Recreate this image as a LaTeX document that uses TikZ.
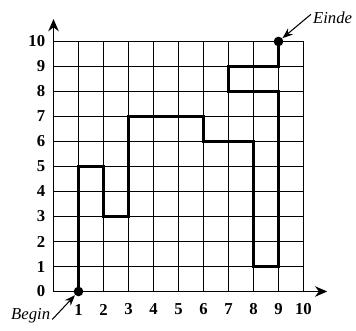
\documentclass[tikz,border=0pt]{standalone}
\usepackage{fontspec}
\setmainfont{Liberation Serif}
\usetikzlibrary{arrows.meta}
\begin{document}
\begin{tikzpicture}[x=0.5cm,y=0.5cm,
  gridline/.style={line width=0.8pt},
  pathline/.style={line width=1.7pt, line join=miter},
  axisline/.style={line width=0.8pt, -{Stealth[length=7pt,width=6pt]}},
  ticklbl/.style={font=\fontsize{9.5}{11}\selectfont\bfseries, inner sep=1pt},
  endlbl/.style={font=\fontsize{9.5}{11}\selectfont\itshape, inner sep=1pt},
  dot/.style={circle, fill=black, inner sep=0pt, minimum size=5.5pt},
  ptr/.style={line width=0.6pt, -{Stealth[length=6pt,width=4.5pt]}}]
\useasboundingbox (-2.14,-1.58) rectangle (12.10,11.66);
\foreach \i in {1,...,10} {
  \draw[gridline] (\i,0) -- (\i,10);
  \draw[gridline] (0,\i) -- (10,\i);
}
\coordinate (o) at (0,0);
\coordinate (xend) at (10.95,0);
\coordinate (yend) at (0,10.9);
\draw[axisline] (o) -- (xend);
\draw[axisline] (o) -- (yend);
\foreach \i in {0,...,10} {
  \node[ticklbl, anchor=east] (y\i) at (-0.25,\i) {\i};
}
\foreach \i in {1,...,10} {
  \node[ticklbl] (x\i) at (\i,-0.72) {\i};
}
\draw[pathline] (1,0) -- (1,5) -- (2,5) -- (2,3) -- (3,3) -- (3,7) -- (6,7) -- (6,6) -- (8,6) -- (8,1) -- (9,1) -- (9,8) -- (7,8) -- (7,9) -- (9,9) -- (9,10);
\node[dot] (start) at (1,0) {};
\node[dot] (finish) at (9,10) {};
\node[endlbl, anchor=base east] (beginlbl) at (-0.05,-1.12) {Begin};
\node[endlbl, anchor=base west] (eindelbl) at (10.3,10.72) {Einde};
\draw[ptr] (beginlbl.base east) -- (start);
\draw[ptr] ([yshift=2pt]eindelbl.west) -- (finish);
\end{tikzpicture}
\end{document}
